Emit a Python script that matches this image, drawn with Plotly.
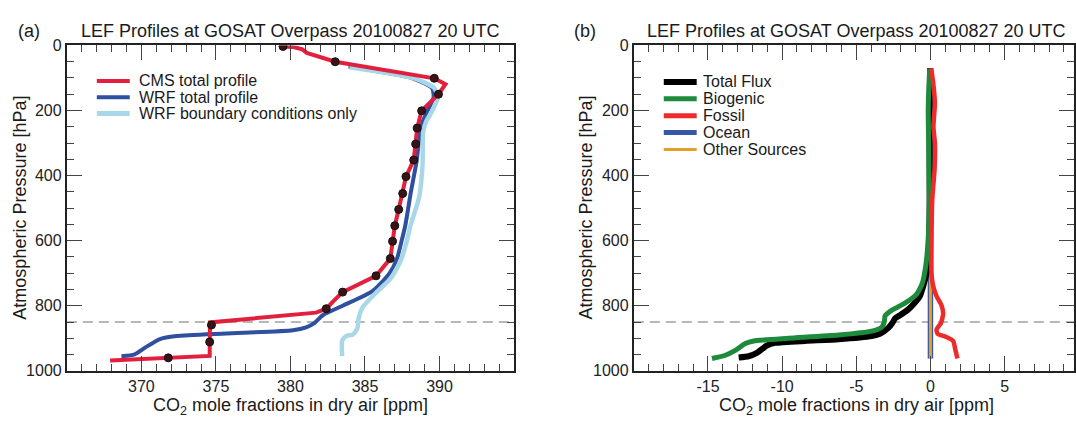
import plotly.graph_objects as go

W, H = 1076, 425
FONT = "Liberation Sans, Arial, sans-serif"

# ---------------- Panel (a) data ----------------
cms_x = [379.3, 379.5, 380.2, 380.8, 381.1, 383.0, 389.65, 390.4, 389.93, 388.8, 388.5, 388.4,
         388.27, 387.75, 387.53, 387.26, 387.0, 386.85, 386.7, 385.74, 384.6, 383.5, 382.9,
         382.4, 381.72, 374.6, 374.58, 371.8, 367.9]
cms_p = [0, 3, 5, 12, 23, 50, 101, 119, 150, 201, 254, 303,
         352, 403, 455, 504, 554, 602, 655, 708, 735, 758, 785,
         809, 821, 851, 954, 960, 968]
cms_marker_x = [379.5, 383.0, 389.65, 389.93, 388.8, 388.5, 388.4, 388.27, 387.75, 387.53,
                387.26, 387.0, 386.85, 386.7, 385.74, 383.5, 382.4, 374.7, 374.58, 371.8]
cms_marker_p = [3, 50, 101, 150, 201, 254, 303, 352, 403, 455,
                504, 554, 602, 655, 708, 758, 809, 859, 911, 960]

wrf_x = [383.9, 388.2, 389.5, 389.6, 389.2, 388.75, 388.6, 388.46, 388.08, 387.7, 387.45,
         387.15, 386.63, 385.5, 383.5, 382.17, 381.6, 381.05, 380.16, 375.7, 372.35, 371.2,
         370.3, 369.55, 368.66]
wrf_p = [65, 101, 131, 160, 200, 249, 300, 357, 450, 554, 602,
         655, 701, 755, 800, 829, 853, 866, 875, 885, 893, 903,
         927, 949, 955]

wrfbc_x = [383.96, 388.3, 389.65, 389.87, 389.53, 389.1, 388.9, 388.86, 388.64, 388.05,
           387.8, 387.45, 386.95, 386.63, 385.74, 384.85, 384.57, 384.5, 384.2, 383.73,
           383.47, 383.47]
wrfbc_p = [67, 101, 131, 160, 200, 234, 268, 367, 465, 554,
           602, 655, 700, 721, 760, 804, 839, 868, 888, 893,
           907, 955]

# ---------------- Panel (b) data ----------------
total_x = [-0.02, -0.05, -0.05, -0.05, -0.08, -0.15, -0.26, -0.49, -0.71, -1.04, -1.49, -2.05,
           -2.39, -2.57, -2.84, -3.40, -3.96, -6.2, -8.45, -10.46, -11.03, -11.70, -12.26, -12.93]
total_p = [70, 200, 400, 475, 593, 652, 701, 740, 770, 790, 811, 829,
           839, 853, 868, 886, 893, 903, 908, 914, 922, 945, 955, 959]

bio_x = [-0.05, -0.1, -0.15, -0.12, -0.1, -0.08, -0.15, -0.30, -0.55, -0.94, -1.72, -2.62,
         -3.06, -3.11, -3.29, -3.96, -6.20, -9.57, -11.92, -12.48, -13.16, -13.83, -14.73]
bio_p = [72, 120, 200, 300, 400, 475, 593, 672, 731, 765, 792, 814,
         831, 849, 866, 878, 890, 900, 908, 916, 937, 952, 962]

fossil_x = [0.05, 0.2, 0.3, 0.2, 0.3, 0.28, 0.12, 0.07, 0.19, 0.41, 0.75, 0.86,
            0.71, 0.41, 0.48, 1.08, 1.53, 1.69, 1.82]
fossil_p = [70, 120, 180, 250, 300, 380, 475, 701, 740, 770, 799, 824,
            853, 873, 886, 896, 908, 937, 962]

ocean_x = [0.0, 0.0]
ocean_p = [70, 962]
other_x = [0.0, 0.0]
other_p = [70, 962]

ref_level = 850
xa_range = [365, 395]
xb_range = [-20, 9.68]
xa_ticks = [370, 375, 380, 385, 390]
xb_ticks = [-15, -10, -5, 0, 5]
xb_ticktext = ["-15", "-10", "-5", "0", "5"]
p_ticks = [0, 200, 400, 600, 800, 1000]

names_a = ["CMS total profile", "WRF total profile", "WRF boundary conditions only"]
names_b = ["Total Flux", "Biogenic", "Fossil", "Ocean", "Other Sources"]

C_CMS, C_WRF, C_BC = "#e21f3d", "#2f4f9f", "#a8d8e8"
C_TOT, C_BIO, C_FOS, C_OCE, C_OTH = "#000000", "#1e8a3c", "#ee2a2a", "#3656a6", "#e0a126"


def px_x(px):
    return px / W


def px_y(py):
    return 1 - py / H


fig = go.Figure()

# reference dashed lines
fig.add_trace(go.Scatter(x=xa_range, y=[ref_level, ref_level], mode="lines",
                         line=dict(color="#a0a0a0", width=1.5, dash="10px,6px"),
                         xaxis="x", yaxis="y", hoverinfo="skip"))
fig.add_trace(go.Scatter(x=[-20, 10], y=[ref_level, ref_level], mode="lines",
                         line=dict(color="#a0a0a0", width=1.5, dash="10px,6px"),
                         xaxis="x2", yaxis="y2", hoverinfo="skip"))

# panel a
fig.add_trace(go.Scatter(x=wrf_x, y=wrf_p, mode="lines", name=names_a[1],
                         line=dict(color=C_WRF, width=4, shape="spline", smoothing=0.6),
                         xaxis="x", yaxis="y"))
fig.add_trace(go.Scatter(x=wrfbc_x, y=wrfbc_p, mode="lines", name=names_a[2],
                         line=dict(color=C_BC, width=4.5, shape="spline", smoothing=0.6),
                         xaxis="x", yaxis="y"))
fig.add_trace(go.Scatter(x=cms_x, y=cms_p, mode="lines", name=names_a[0],
                         line=dict(color=C_CMS, width=4),
                         xaxis="x", yaxis="y"))
fig.add_trace(go.Scatter(x=cms_marker_x, y=cms_marker_p, mode="markers",
                         marker=dict(size=8, color="#3a1218", line=dict(width=1, color="#111")),
                         xaxis="x", yaxis="y"))

# panel b
fig.add_trace(go.Scatter(x=ocean_x, y=ocean_p, mode="lines", name=names_b[3],
                         line=dict(color=C_OCE, width=5.5), xaxis="x2", yaxis="y2"))
fig.add_trace(go.Scatter(x=other_x, y=other_p, mode="lines", name=names_b[4],
                         line=dict(color=C_OTH, width=3), xaxis="x2", yaxis="y2"))
fig.add_trace(go.Scatter(x=total_x, y=total_p, mode="lines", name=names_b[0],
                         line=dict(color=C_TOT, width=6, shape="spline", smoothing=0.5),
                         xaxis="x2", yaxis="y2"))
fig.add_trace(go.Scatter(x=bio_x, y=bio_p, mode="lines", name=names_b[1],
                         line=dict(color=C_BIO, width=5, shape="spline", smoothing=0.5),
                         xaxis="x2", yaxis="y2"))
fig.add_trace(go.Scatter(x=fossil_x, y=fossil_p, mode="lines", name=names_b[2],
                         line=dict(color=C_FOS, width=4.5, shape="spline", smoothing=0.5),
                         xaxis="x2", yaxis="y2"))

ydom = [px_y(378), px_y(39)]
common = dict(showline=True, linewidth=2, linecolor="#222", mirror="ticks",
              ticks="inside", ticklen=15, tickwidth=1.2, tickcolor="#444",
              showgrid=False, zeroline=False, tickmode="array",
              tickfont=dict(family=FONT, size=16, color="#222"))
minor_common = dict(tickmode="array", ticks="inside", ticklen=7, tickwidth=1.2, tickcolor="#444")

fig.update_layout(
    width=W, height=H, margin=dict(l=0, r=0, t=0, b=0),
    paper_bgcolor="white", plot_bgcolor="white", showlegend=False,
    xaxis=dict(domain=[px_x(67), px_x(515)], range=xa_range, anchor="y",
               tickvals=xa_ticks,
               minor=dict(tickvals=list(range(365, 396)), **minor_common),
               **common),
    yaxis=dict(domain=ydom, range=[1000, 0], anchor="x",
               tickvals=p_ticks,
               minor=dict(tickvals=list(range(0, 1001, 50)), **minor_common),
               **common),
    xaxis2=dict(domain=[px_x(635), 1.0], range=xb_range, anchor="y2",
                tickvals=xb_ticks, ticktext=xb_ticktext,
                minor=dict(tickvals=list(range(-20, 10)), **minor_common),
                **common),
    yaxis2=dict(domain=ydom, range=[1000, 0], anchor="x2",
                tickvals=p_ticks,
                minor=dict(tickvals=list(range(0, 1001, 50)), **minor_common),
                **common),
)

ann = []
shapes = []


def text(px, py, s, size, anchor="center", vanchor="middle", angle=0):
    ann.append(dict(x=px_x(px), y=px_y(py), xref="paper", yref="paper", text=s,
                    showarrow=False, xanchor=anchor, yanchor=vanchor, textangle=angle,
                    font=dict(family=FONT, size=size, color="#1a1a1a")))


title = "LEF Profiles at GOSAT Overpass 20100827 20 UTC"
xtitle = "CO<sub>2</sub> mole fractions in dry air [ppm]"
ytitle = "Atmospheric Pressure [hPa]"

text(291, 11, title, 18, vanchor="top")
text(858, 11, title, 18, vanchor="top")
text(29, 11, "(a)", 18, vanchor="top")
text(586, 11, "(b)", 18, vanchor="top")
text(291, 401, xtitle, 18, vanchor="top")
text(858, 401, xtitle, 18, vanchor="top")
text(20, 208, ytitle, 18, angle=-90)
text(587, 208, ytitle, 18, angle=-90)

# legends
leg_a = [(names_a[0], C_CMS, 4), (names_a[1], C_WRF, 4), (names_a[2], C_BC, 5)]
for i, (nm, col, w) in enumerate(leg_a):
    yy = 76 + 17 * i
    shapes.append(dict(type="line", xref="paper", yref="paper",
                       x0=px_x(97), x1=px_x(130), y0=px_y(yy), y1=px_y(yy),
                       line=dict(color=col, width=w)))
    text(137, yy, nm, 16, anchor="left")

leg_b = [(names_b[0], C_TOT, 6), (names_b[1], C_BIO, 5), (names_b[2], C_FOS, 5),
         (names_b[3], C_OCE, 5), (names_b[4], C_OTH, 3)]
for i, (nm, col, w) in enumerate(leg_b):
    yy = 77 + 17.6 * i
    shapes.append(dict(type="line", xref="paper", yref="paper",
                       x0=px_x(665), x1=px_x(698), y0=px_y(yy), y1=px_y(yy),
                       line=dict(color=col, width=w)))
    text(702, yy, nm, 16, anchor="left")

fig.update_layout(annotations=ann, shapes=shapes)
fig.write_html("out.html")
